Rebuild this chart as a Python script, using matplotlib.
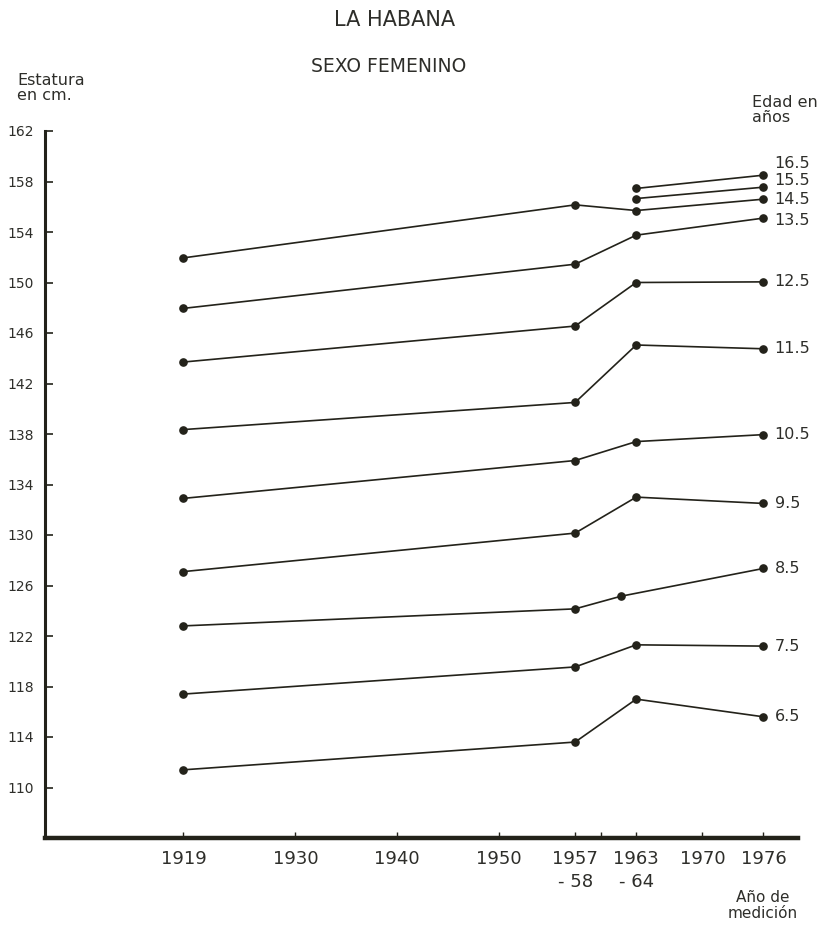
import matplotlib
matplotlib.use("Agg")
import matplotlib.pyplot as plt

# Survey years (mid-point used for the 1957-58 and 1963-64 surveys)
years_full = [1919, 1957.5, 1963.5, 1976]
years_85 = [1919, 1957.5, 1962, 1976]
years_late = [1963.5, 1976]

# Mean stature (cm) of girls in La Habana, by age group
height_6_5 = [111.4, 113.6, 117.0, 115.6]
height_7_5 = [117.4, 119.55, 121.3, 121.2]
height_8_5 = [122.8, 124.15, 125.15, 127.35]
height_9_5 = [127.1, 130.15, 133.0, 132.5]
height_10_5 = [132.9, 135.9, 137.4, 137.95]
height_11_5 = [138.35, 140.5, 145.05, 144.75]
height_12_5 = [143.7, 146.55, 150.0, 150.05]
height_13_5 = [147.95, 151.45, 153.75, 155.1]
height_14_5 = [151.95, 156.15, 155.7, 156.6]
height_15_5 = [156.65, 157.55]
height_16_5 = [157.45, 158.5]

age_labels = ["6.5", "7.5", "8.5", "9.5", "10.5", "11.5",
              "12.5", "13.5", "14.5", "15.5", "16.5"]

y_ticks = list(range(162, 109, -4))
x_tick_years = [1919, 1930, 1940, 1950, 1957.5, 1963.5, 1970, 1976]
x_tick_labels = ["1919", "1930", "1940", "1950", "1957\n- 58", "1963\n- 64",
                 "1970", "1976"]

series = [
    (years_full, height_6_5),
    (years_full, height_7_5),
    (years_85, height_8_5),
    (years_full, height_9_5),
    (years_full, height_10_5),
    (years_full, height_11_5),
    (years_full, height_12_5),
    (years_full, height_13_5),
    (years_full, height_14_5),
    (years_late, height_15_5),
    (years_late, height_16_5),
]

# vertical nudge (in points) so the crowded top labels don't collide
label_nudge = {"16.5": 8.5, "15.5": 4.5, "14.5": -0.5, "13.5": -1.5}

INK = "#23221a"
TEXT = "#2e2e2a"
plt.rcParams["font.family"] = ["DejaVu Sans"]

fig = plt.figure(figsize=(8.2, 9.25), dpi=100)
fig.patch.set_facecolor("white")
ax = fig.add_axes([45 / 820, (925 - 838) / 925, 753 / 820, 707 / 925])

for (xs, ys), lab in zip(series, age_labels):
    ax.plot(xs, ys, color=INK, lw=1.2, marker="o", ms=5.2,
            markerfacecolor=INK, markeredgecolor=INK, clip_on=False)
    ax.annotate(lab, (xs[-1], ys[-1]),
                xytext=(8, label_nudge.get(lab, 0)), textcoords="offset points",
                ha="left", va="center", fontsize=11.5, color=TEXT)

ax.set_xlim(1905.4, 1979.4)
ax.set_ylim(106, 162)

ax.set_yticks(y_ticks)
ax.set_yticklabels([str(v) for v in y_ticks])
ax.set_xticks(x_tick_years)
ax.set_xticklabels(x_tick_labels)
ax.set_xticks([1960], minor=True)

for side in ("top", "right"):
    ax.spines[side].set_visible(False)
ax.spines["left"].set_linewidth(2.2)
ax.spines["left"].set_color(INK)
ax.spines["bottom"].set_linewidth(3.2)
ax.spines["bottom"].set_color(INK)

ax.tick_params(axis="y", direction="in", length=6, width=1.2, color=INK,
               labelsize=10, labelcolor=TEXT, pad=8)
ax.tick_params(axis="x", which="both", direction="in", length=4, width=1.0,
               color=INK, labelsize=13, labelcolor=TEXT, pad=9)
for t in ax.get_xticklabels():
    t.set_linespacing(1.35)

fig.text(395 / 820, 1 - 20 / 925, "LA HABANA", ha="center", va="center",
         fontsize=15, color=TEXT)
fig.text(389 / 820, 1 - 67 / 925, "SEXO FEMENINO", ha="center", va="center",
         fontsize=13.5, color=TEXT, fontweight="medium")
fig.text(17 / 820, 1 - 73 / 925, "Estatura\nen cm.", ha="left", va="top",
         fontsize=11.5, color=TEXT, linespacing=1.0)
fig.text(752 / 820, 1 - 95 / 925, "Edad en\naños", ha="left", va="top",
         fontsize=11.5, color=TEXT, linespacing=1.0)
fig.text(763 / 820, 1 - 890 / 925, "Año de\nmedición", ha="center", va="top",
         fontsize=11, color=TEXT, linespacing=1.05, multialignment="center")

fig.savefig("out.png", dpi=100, facecolor="white")
